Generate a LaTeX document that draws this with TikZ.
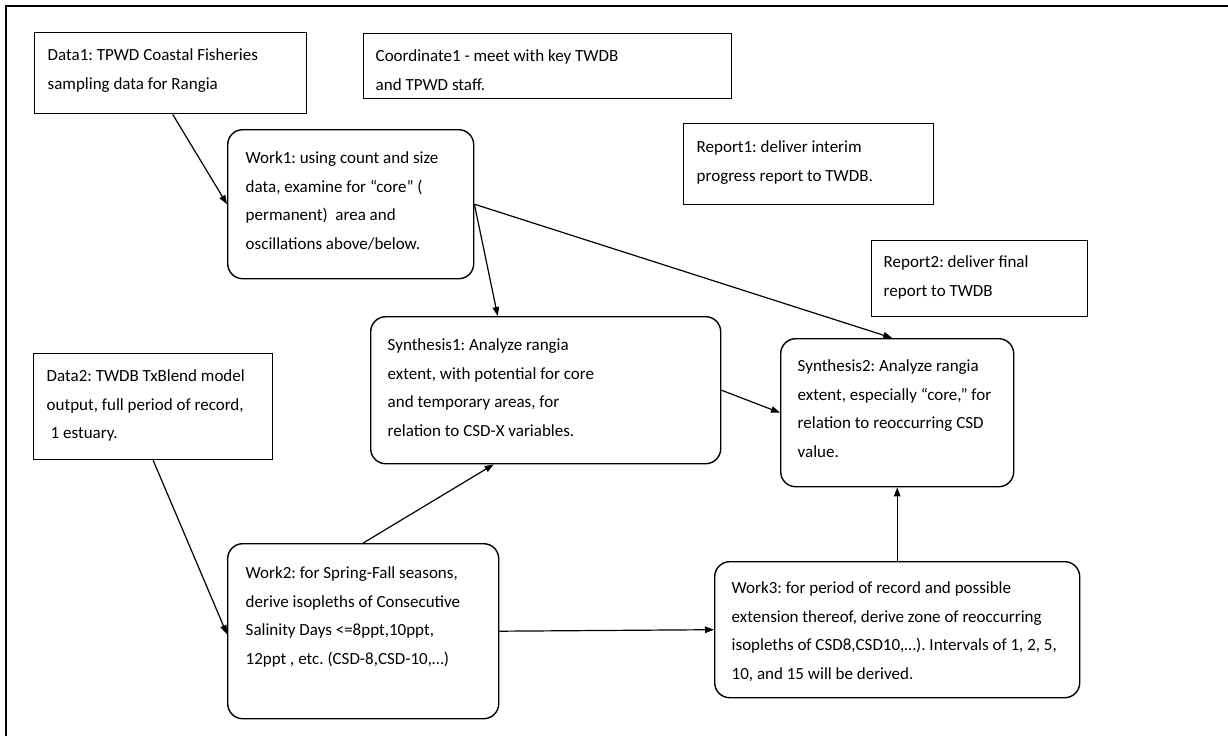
\documentclass[tikz,border=0pt]{standalone}
\usepackage{fontspec}
\setmainfont{Carlito}
\frenchspacing
\usetikzlibrary{arrows.meta}
\newcommand\bxtext[5]{% width, height, left pad, first-baseline offset, text
  \parbox[c][#2][t]{\dimexpr#1-2\dimexpr#3\relax\relax}{\raggedright\frenchspacing\vspace*{\dimexpr#4-14pt\relax}\rule{0pt}{14pt}#5}}
\tikzset{
  sqbox/.style={draw, line width=1.4pt, anchor=north west, inner ysep=0pt, font=\fontsize{17}{28.5}\selectfont},
  rdbox/.style={sqbox, rounded corners=15pt},
  flow/.style={draw, line width=1.2pt, -{Triangle[length=9pt,width=6.5pt]}}
}
\begin{document}
\begin{tikzpicture}[x=1pt,y=-1pt]
\useasboundingbox (0,0) rectangle (1228,736);
\coordinate (fa) at (5.5,736);
\coordinate (fb) at (5.5,6);
\coordinate (fc) at (1228,6);
\draw[line width=2pt] (fa) -- (fb) -- (fc);

\node[sqbox, inner xsep=13pt] (data1) at (34,32)
  {\bxtext{272pt}{81pt}{13pt}{28pt}{Data1: TPWD Coastal Fisheries\\sampling data for Rangia}};
\node[sqbox, inner xsep=12pt] (coord1) at (363,33)
  {\bxtext{368pt}{65pt}{12pt}{28pt}{Coordinate1 - meet with key TWDB\\and TPWD staff.}};
\node[sqbox, inner xsep=13pt] (rep1) at (683,123)
  {\bxtext{250pt}{81pt}{13pt}{29pt}{Report1: deliver interim\\progress report to TWDB.}};
\node[sqbox, inner xsep=12pt] (rep2) at (871,240)
  {\bxtext{216pt}{76pt}{12pt}{27pt}{Report2: deliver final\\report to TWDB}};
\node[rdbox, inner xsep=18pt] (work1) at (227,129)
  {\bxtext{246pt}{149pt}{18pt}{34pt}{Work1: using count and size\\data, examine for “core” (\\permanent)\ \ area and\\oscillations above/below.}};
\node[rdbox, inner xsep=17pt] (syn1) at (370,316)
  {\bxtext{350pt}{147pt}{17pt}{34pt}{Synthesis1: Analyze rangia\\extent, with potential for core\\and temporary areas, for\\relation to CSD-X variables.}};
\node[rdbox, inner xsep=17pt] (syn2) at (780,338)
  {\bxtext{233pt}{148pt}{17pt}{33pt}{Synthesis2: Analyze rangia\\extent, especially “core,” for\\relation to reoccurring CSD\\value.}};
\node[sqbox, inner xsep=13pt] (data2) at (33,353)
  {\bxtext{239pt}{106pt}{13pt}{28pt}{Data2: TWDB TxBlend model\\output, full period of record,\\\hspace*{4pt}1 estuary.}};
\node[rdbox, inner xsep=18pt] (work2) at (227,543)
  {\bxtext{271pt}{175pt}{18pt}{35pt}{Work2: for Spring-Fall seasons,\\derive isopleths of Consecutive\\Salinity Days <=8ppt,10ppt,\\12ppt , etc. (CSD-8,CSD-10,…)}};
\node[rdbox, inner xsep=17pt] (work3) at (714,561)
  {\bxtext{365pt}{136pt}{17pt}{32pt}{Work3: for period of record and possible\\extension thereof, derive zone of reoccurring\\isopleths of CSD8,CSD10,…). Intervals of 1, 2, 5,\\10, and 15 will be derived.}};

\draw[flow] ([xshift=2pt]data1.south) -- (work1.west);
\draw[flow] (work1.east) -- ([xshift=-48pt]syn1.north);
\draw[flow] (work1.east) -- ([xshift=-5pt]syn2.north);
\draw[flow] (syn1.east) -- (syn2.west);
\draw[flow] (data2.south) -- ([yshift=-3pt]work2.west);
\draw[flow] (work2.north) -- ([xshift=-52pt]syn1.south);
\draw[flow] (work2.east) -- (work3.west);
\draw[flow] (work3.north) -- (syn2.south);
\end{tikzpicture}
\end{document}
